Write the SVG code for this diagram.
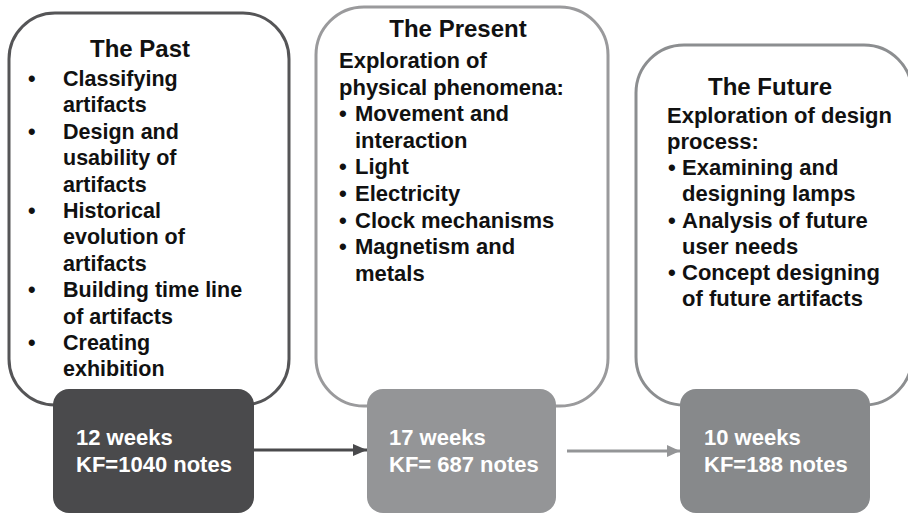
<svg xmlns="http://www.w3.org/2000/svg" width="908" height="514" viewBox="0 0 908 514">
<style>
text{font-family:"Liberation Sans",Arial,sans-serif;font-weight:bold}
.big{fill:#fff;stroke-width:3}
.t{fill:#111;font-size:21.5px}
.h{fill:#111;font-size:24px;text-anchor:middle}
.w{fill:#fff;font-size:22px}
</style>
<defs>
<marker id="a1" markerWidth="14" markerHeight="12" refX="14" refY="6" orient="auto" markerUnits="userSpaceOnUse"><path d="M0,0L14,6L0,12z" fill="#4a4a4c"/></marker>
<marker id="a2" markerWidth="13" markerHeight="12" refX="13" refY="6" orient="auto" markerUnits="userSpaceOnUse"><path d="M0,0L13,6L0,12z" fill="#949597"/></marker>
</defs>
<rect width="908" height="514" fill="#fff"/>
<g id="past">
<rect class="big" x="9" y="13" width="280" height="392" rx="46" stroke="#555557"/>
<text class="h" x="140" y="57">The Past</text>
<g class="t">
<text x="28" y="86">•</text><text x="63" y="86">Classifying</text>
<text x="63" y="112.4">artifacts</text>
<text x="28" y="138.8">•</text><text x="63" y="138.8">Design and</text>
<text x="63" y="165.2">usability of</text>
<text x="63" y="191.6">artifacts</text>
<text x="28" y="218">•</text><text x="63" y="218">Historical</text>
<text x="63" y="244.4">evolution of</text>
<text x="63" y="270.8">artifacts</text>
<text x="28" y="297.2">•</text><text x="63" y="297.2">Building time line</text>
<text x="63" y="323.6">of artifacts</text>
<text x="28" y="350">•</text><text x="63" y="350">Creating</text>
<text x="63" y="376.4">exhibition</text>
</g>
</g>
<g id="present">
<rect class="big" x="316" y="7" width="292" height="399" rx="48" stroke="#9a9a9c"/>
<text class="h" x="458" y="37">The Present</text>
<g class="t" style="font-size:22px">
<text x="339" y="68">Exploration of</text>
<text x="339" y="94.6">physical phenomena:</text>
<text x="339" y="121.2">•</text><text x="355" y="121.2">Movement and</text>
<text x="355" y="147.8">interaction</text>
<text x="339" y="174.4">•</text><text x="355" y="174.4">Light</text>
<text x="339" y="201">•</text><text x="355" y="201">Electricity</text>
<text x="339" y="227.6">•</text><text x="355" y="227.6">Clock mechanisms</text>
<text x="339" y="254.2">•</text><text x="355" y="254.2">Magnetism and</text>
<text x="355" y="280.8">metals</text>
</g>
</g>
<g id="future">
<rect class="big" x="636" y="45" width="276" height="360" rx="48" stroke="#8c8e90"/>
<text class="h" x="770" y="95">The Future</text>
<g class="t" style="font-size:22px">
<text x="667" y="122.5">Exploration of design</text>
<text x="667" y="148.5">process:</text>
<text x="668" y="175">•</text><text x="682" y="175">Examining and</text>
<text x="682" y="201">designing lamps</text>
<text x="668" y="227.5">•</text><text x="682" y="227.5">Analysis of future</text>
<text x="682" y="253.5">user needs</text>
<text x="668" y="280">•</text><text x="682" y="280">Concept designing</text>
<text x="682" y="306">of future artifacts</text>
</g>
</g>
<g id="past-stats">
<rect x="53" y="389" width="201" height="124" rx="16" fill="#4a4a4c"/>
<text class="w" x="76" y="445">12 weeks</text>
<text class="w" x="76" y="472">KF=1040 notes</text>
</g>
<g id="present-stats">
<rect x="367" y="389" width="189" height="124" rx="16" fill="#949597"/>
<text class="w" x="389" y="445">17 weeks</text>
<text class="w" x="389" y="472">KF= 687 notes</text>
</g>
<g id="future-stats">
<rect x="680" y="389" width="190" height="124" rx="16" fill="#87898b"/>
<text class="w" x="704" y="445">10 weeks</text>
<text class="w" x="704" y="472">KF=188 notes</text>
</g>
<g id="connectors">
<line x1="254" y1="450" x2="367" y2="450" stroke="#4a4a4c" stroke-width="3" marker-end="url(#a1)"/>
<line x1="567" y1="451" x2="680" y2="451" stroke="#949597" stroke-width="3" marker-end="url(#a2)"/>
</g>
</svg>
